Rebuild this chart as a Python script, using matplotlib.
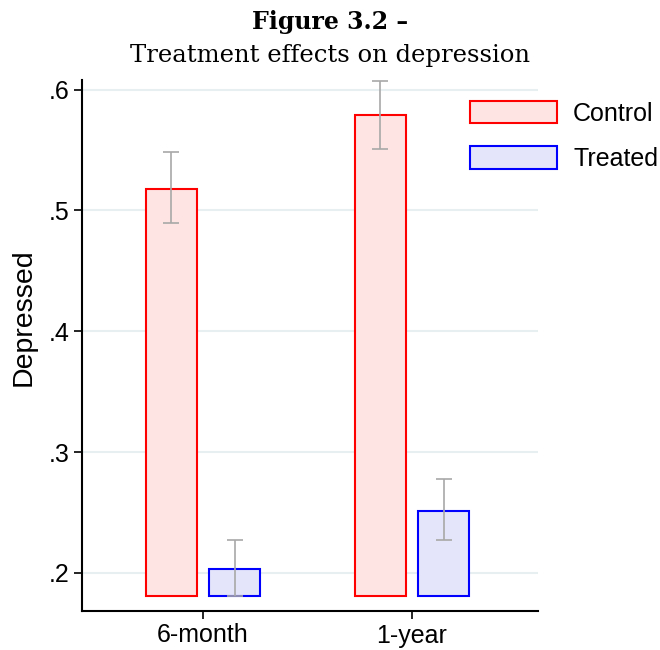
import numpy as np
import matplotlib
matplotlib.use("Agg")
import matplotlib.pyplot as plt

periods = ["6-month", "1-year"]
groups = ["Control", "Treated"]
means = {"Control": [0.518, 0.579], "Treated": [0.2035, 0.2515]}
ci_low = {"Control": [0.490, 0.551], "Treated": [0.181, 0.2275]}
ci_high = {"Control": [0.548, 0.6075], "Treated": [0.2275, 0.278]}
base = 0.181
yticks = [0.2, 0.3, 0.4, 0.5, 0.6]
ytick_labels = [".2", ".3", ".4", ".5", ".6"]

fills = {"Control": "#ffe4e4", "Treated": "#e4e4fa"}
edges = {"Control": "#ff0000", "Treated": "#0000ff"}
offsets = {"Control": -0.151, "Treated": 0.151}

fig = plt.figure(figsize=(6.6, 6.5), dpi=100)
ax = fig.add_axes([0.1242, 0.06, 0.6909, 0.817])

x = np.arange(len(periods))
for g in groups:
    h = np.array(means[g]) - base
    ax.bar(x + offsets[g], h, bottom=base, width=0.244, color=fills[g],
           edgecolor=edges[g], linewidth=1.5, label=g, zorder=2)
    lo = np.array(means[g]) - np.array(ci_low[g])
    hi = np.array(ci_high[g]) - np.array(means[g])
    ax.errorbar(x + offsets[g], means[g], yerr=[lo, hi], fmt="none",
                ecolor="#a8a8a8", elinewidth=1.2, capsize=6, capthick=1.2, zorder=3)

ax.set_xlim(-0.579, 1.603)
ax.set_ylim(0.1685, 0.608)
ax.set_xticks(x)
ax.set_xticklabels(periods, family="Liberation Sans", fontsize=18)
ax.set_yticks(yticks)
ax.set_yticklabels(ytick_labels, family="Liberation Sans", fontsize=18)
ax.tick_params(direction="out", length=6, width=1.2, color="black", pad=3)
ax.yaxis.grid(True, color="#e8eff1", linewidth=1.5, zorder=0)
ax.set_axisbelow(True)
for s in ["top", "right"]:
    ax.spines[s].set_visible(False)
for s in ["left", "bottom"]:
    ax.spines[s].set_linewidth(1.5)
ax.set_ylabel("Depressed", family="Liberation Sans", fontsize=20.5)
ax.yaxis.set_label_coords(-0.099, 0.554)

leg = fig.legend(*ax.get_legend_handles_labels(), loc="upper left",
                 bbox_to_anchor=(470 / 660, 1 - 101 / 650), frameon=False,
                 prop={"family": "Liberation Sans", "size": 18},
                 handlelength=3.48, handleheight=1.0, labelspacing=0.82,
                 handletextpad=0.64, borderpad=0, borderaxespad=0)

fig.text(0.5, 1 - 29 / 650, "Figure 3.2 \u2013", ha="center", va="baseline",
         family="DejaVu Serif", fontsize=17, fontweight="bold")
fig.text(0.5, 1 - 62 / 650, "Treatment effects on depression", ha="center",
         va="baseline", family="DejaVu Serif", fontsize=17.5)

fig.savefig("out.png", dpi=100)
